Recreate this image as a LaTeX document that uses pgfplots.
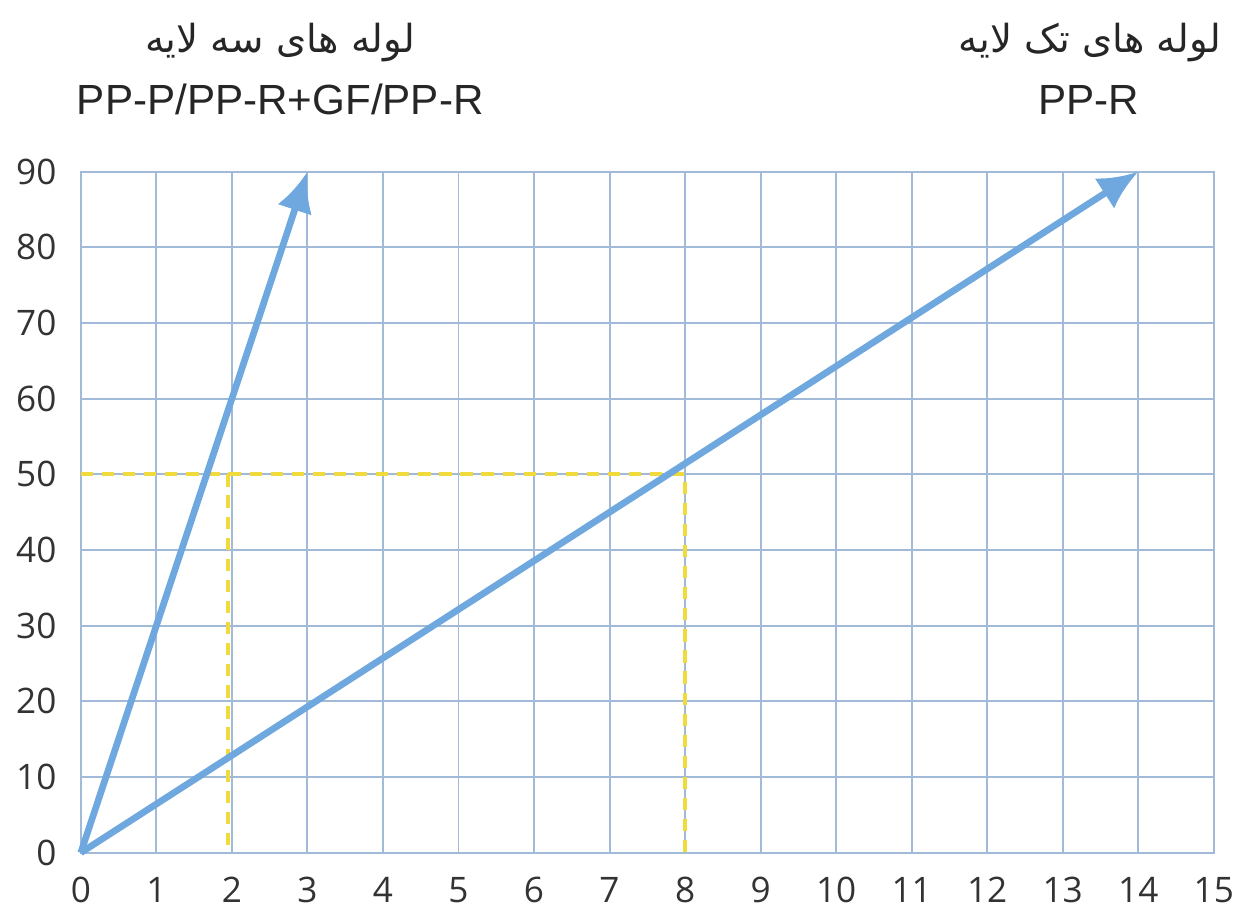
\documentclass[border=0pt]{standalone}
\usepackage{pgfplots}
\pgfplotsset{compat=1.18}
\usetikzlibrary{arrows.meta}
\usepackage{fontspec}
\setmainfont{Open Sans}
\newfontfamily\latinfont{Liberation Sans}
\newfontfamily\farsifont[Script=Arabic]{DejaVu Sans}
\TeXXeTstate=1
\definecolor{gridc}{RGB}{160,186,215}
\definecolor{arrowc}{RGB}{111,168,222}
\definecolor{dashc}{RGB}{240,218,60}
\begin{document}
\begin{tikzpicture}
\begin{axis}[
    scale only axis,
    width=113.3mm, height=68.1mm,
    xmin=0, xmax=15, ymin=0, ymax=90,
    xtick={0,1,...,15}, ytick={0,10,...,90},
    grid=major,
    major grid style={gridc, line width=0.55pt},
    axis line style={gridc, line width=0.55pt},
    major tick length=0pt,
    tick label style={font=\fontsize{10}{12}\selectfont, text=black!80},
    /pgf/number format/assume math mode=true,
    xticklabel style={yshift=-1.2mm},
    yticklabel style={xshift=-1.2mm},
    clip=false,
]
% frame of the whole picture
\path (axis cs:-1.07,-6.6) rectangle (axis cs:15.44,112.7);
\addplot[dashc, line width=1.2pt, dash pattern=on 3.5pt off 2.5pt] coordinates {(0,50)(8,50)(8,0)};
\addplot[dashc, line width=1.2pt, dash pattern=on 3.5pt off 2.5pt] coordinates {(1.95,50)(1.95,0)};
\addplot[arrowc, line width=1.9pt, -{Latex[length=4mm,width=3.6mm]}] coordinates {(0,0)(3,90)};
\addplot[arrowc, line width=1.9pt, -{Latex[length=4mm,width=3.6mm]}] coordinates {(0,0)(14,90)};
\node[font=\fontsize{11}{13}\selectfont\farsifont, text=black!85] at (axis cs:2.64,107.1) {\beginR لوله های سه لایه\endR};
\node[font=\fontsize{12}{14}\selectfont\latinfont, text=black!85] at (axis cs:2.64,99.5) {PP-P/PP-R+GF/PP-R};
\node[font=\fontsize{11}{13}\selectfont\farsifont, text=black!85] at (axis cs:13.36,107.1) {\beginR لوله های تک لایه\endR};
\node[font=\fontsize{12}{14}\selectfont\latinfont, text=black!85] at (axis cs:13.34,99.5) {PP-R};
\end{axis}
\end{tikzpicture}
\end{document}
